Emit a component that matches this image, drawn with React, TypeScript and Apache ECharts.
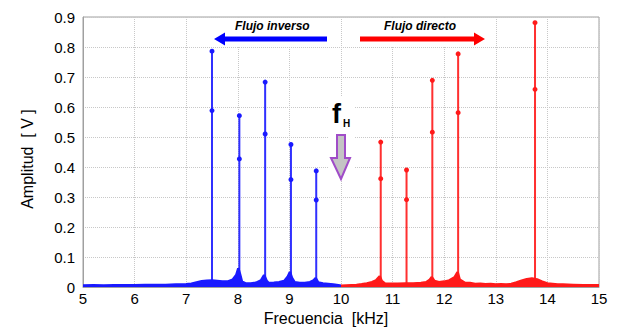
import React, { useEffect, useRef } from "react";
import * as echarts from "echarts";

// Tick settings
const xTicks = { min: 5, max: 15, interval: 1 };
const yTicks = { min: 0, max: 0.9, interval: 0.1 };

// Harmonic peaks (kHz, amplitude at top, amplitude at middle marker)
const inverseFreqs = [7.5, 8.03, 8.53, 9.03, 9.52];
const inverseTops = [0.786, 0.571, 0.683, 0.475, 0.387];
const inverseMids = [0.588, 0.427, 0.51, 0.358, 0.29];

const directFreqs = [10.77, 11.27, 11.77, 12.27, 13.76];
const directTops = [0.483, 0.39, 0.689, 0.777, 0.881];
const directMids = [0.361, 0.291, 0.516, 0.581, 0.659];

// Background spectrum (kHz, V)
const inverseNoise: [number, number][] = [
  [5.0, 0.005], [5.2, 0.006], [5.4, 0.005], [5.6, 0.006], [5.8, 0.006], [6.0, 0.006],
  [6.2, 0.007], [6.4, 0.007], [6.6, 0.007], [6.8, 0.008], [7.0, 0.009], [7.1, 0.011],
  [7.2, 0.015], [7.3, 0.019], [7.4, 0.021], [7.5, 0.022], [7.6, 0.02], [7.7, 0.018],
  [7.8, 0.018], [7.9, 0.024], [7.97, 0.04], [8.01, 0.062], [8.04, 0.045], [8.08, 0.018],
  [8.15, 0.012], [8.25, 0.012], [8.35, 0.014], [8.45, 0.022], [8.51, 0.04], [8.56, 0.02],
  [8.6, 0.013], [8.7, 0.014], [8.8, 0.016], [8.9, 0.02], [8.97, 0.035], [9.01, 0.05],
  [9.05, 0.03], [9.1, 0.016], [9.2, 0.013], [9.3, 0.013], [9.4, 0.016], [9.47, 0.022],
  [9.51, 0.03], [9.56, 0.015], [9.65, 0.012], [9.75, 0.01], [9.85, 0.008], [9.95, 0.006],
  [10.0, 0.004],
];
const directNoise: [number, number][] = [
  [10.0, 0.004], [10.1, 0.005], [10.2, 0.006], [10.3, 0.007], [10.4, 0.009], [10.5, 0.012],
  [10.6, 0.016], [10.68, 0.022], [10.75, 0.036], [10.79, 0.02], [10.85, 0.012], [10.95, 0.011],
  [11.1, 0.011], [11.25, 0.012], [11.4, 0.012], [11.55, 0.013], [11.65, 0.016], [11.72, 0.024],
  [11.76, 0.033], [11.81, 0.02], [11.9, 0.016], [12.0, 0.018], [12.1, 0.022], [12.2, 0.032],
  [12.26, 0.05], [12.3, 0.025], [12.4, 0.014], [12.5, 0.013], [12.6, 0.01], [12.7, 0.011],
  [12.8, 0.009], [12.9, 0.01], [13.0, 0.008], [13.1, 0.009], [13.2, 0.008], [13.3, 0.01],
  [13.4, 0.015], [13.5, 0.021], [13.6, 0.026], [13.7, 0.028], [13.8, 0.025], [13.9, 0.018],
  [14.0, 0.012], [14.1, 0.01], [14.2, 0.008], [14.3, 0.008], [14.5, 0.007], [14.7, 0.006],
  [14.9, 0.006], [15.0, 0.006],
];

const BLUE = "#1a1aff";
const RED = "#ff1a1a";
const FONT = "Arial, Liberation Sans, sans-serif";

function stemSeries(freqs: number[], tops: number[], mids: number[], color: string) {
  return freqs.map((f, i) => ({
    type: "line",
    data: [
      { value: [f, 0], symbol: "none" },
      [f, mids[i]],
      [f, tops[i]],
    ],
    symbol: "circle",
    symbolSize: 5,
    showSymbol: true,
    lineStyle: { color, width: 2, opacity: 0.9 },
    itemStyle: { color },
    z: 3,
    silent: true,
  }));
}

function txt(text: string, x: number, y: number, size: number, opts: any = {}) {
  return {
    type: "text",
    x,
    y,
    z: 10,
    rotation: opts.rotation || 0,
    style: {
      text,
      fontSize: size,
      fontFamily: FONT,
      fontWeight: opts.weight || "normal",
      fontStyle: opts.style || "normal",
      fill: "#000",
      align: opts.align || "left",
      verticalAlign: "middle",
    },
  };
}

export default function App() {
  const ref = useRef<HTMLDivElement>(null);
  useEffect(() => {
    if (!ref.current) return;
    const chart = echarts.init(ref.current, undefined, { renderer: "svg" });
    chart.setOption({
      animation: false,
      grid: { left: 83, right: 22, top: 17, bottom: 41, show: true, borderColor: "#a0a0a0", borderWidth: 1 },
      xAxis: {
        type: "value",
        min: xTicks.min,
        max: xTicks.max,
        interval: xTicks.interval,
        axisLine: { show: true, lineStyle: { color: "#a0a0a0" } },
        axisTick: { show: false },
        axisLabel: { color: "#000", fontSize: 15, fontFamily: FONT, margin: 4 },
        splitLine: { show: true, lineStyle: { color: "#c8c8c8", type: [1, 1], width: 1 } },
      },
      yAxis: {
        type: "value",
        min: yTicks.min,
        max: yTicks.max,
        interval: yTicks.interval,
        axisLine: { show: true, lineStyle: { color: "#a0a0a0" } },
        axisTick: { show: false },
        axisLabel: { color: "#000", fontSize: 15, fontFamily: FONT, margin: 8 },
        splitLine: { show: true, lineStyle: { color: "#c8c8c8", type: [1, 1], width: 1 } },
      },
      series: [
        {
          type: "line",
          data: inverseNoise,
          symbol: "none",
          lineStyle: { color: BLUE, width: 2.5 },
          areaStyle: { color: BLUE, opacity: 1 },
          z: 4,
          silent: true,
        },
        {
          type: "line",
          data: directNoise,
          symbol: "none",
          lineStyle: { color: RED, width: 2.5 },
          areaStyle: { color: RED, opacity: 1 },
          z: 4,
          silent: true,
        },
        ...stemSeries(inverseFreqs, inverseTops, inverseMids, BLUE),
        ...stemSeries(directFreqs, directTops, directMids, RED),
      ],
      graphic: [
        { type: "rect", shape: { x: 212, y: 18, width: 119, height: 29 }, style: { fill: "#fff" }, z: 1 },
        { type: "rect", shape: { x: 357, y: 18, width: 131, height: 29 }, style: { fill: "#fff" }, z: 1 },
        { type: "rect", shape: { x: 328, y: 96, width: 27, height: 84 }, style: { fill: "#fff" }, z: 1 },
        txt("Flujo inverso", 235, 26, 12, { weight: "bold", style: "italic" }),
        txt("Flujo directo", 384, 26, 12, { weight: "bold", style: "italic" }),
        {
          type: "polygon", z: 10,
          shape: { points: [[214, 39], [225, 32.5], [225, 36.5], [327, 36.5], [327, 41.5], [225, 41.5], [225, 45.5]] },
          style: { fill: "#0000ff" },
        },
        {
          type: "polygon", z: 10,
          shape: { points: [[485, 39], [474, 32.5], [474, 36.5], [360, 36.5], [360, 41.5], [474, 41.5], [474, 45.5]] },
          style: { fill: "#ff0000" },
        },
        txt("f", 332, 114, 27, { weight: "bold" }),
        txt("H", 343, 123, 10, { weight: "bold" }),
        {
          type: "polygon", z: 10,
          shape: { points: [[337, 135], [345, 135], [345, 158], [350, 158], [341, 179], [331, 158], [337, 158]] },
          style: { fill: "#c4c4c4", stroke: "#a04cc8", lineWidth: 2 },
        },
        txt("Amplitud  [ V ]", 27, 159, 16, { align: "center", rotation: Math.PI / 2 }),
        txt("Frecuencia  [kHz]", 326, 318, 16, { align: "center" }),
      ],
    });
    return () => chart.dispose();
  }, []);
  return <div ref={ref} style={{ width: 621, height: 328, position: "absolute", left: 0, top: 0 }} />;
}
